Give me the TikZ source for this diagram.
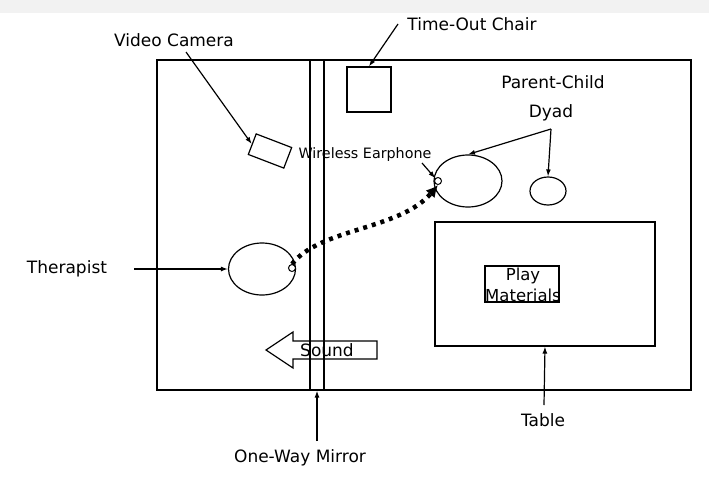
\documentclass[tikz,border=0pt]{standalone}
\usepackage{fontspec}
\setmainfont{DejaVu Sans}
\usetikzlibrary{shapes.geometric,arrows.meta}
\tikzset{
  lbl/.style={font=\fontsize{17}{20}\selectfont, inner sep=1pt},
  small/.style={font=\fontsize{14.3}{17}\selectfont, inner sep=1pt},
  box/.style={draw, line width=1.2pt, inner sep=0pt},
  oval/.style={draw, ellipse, line width=1.2pt, inner sep=0pt},
  ear/.style={draw, circle, fill=white, line width=1pt, minimum size=7pt, inner sep=0pt},
  arr/.style={line width=1.2pt, -{Latex[length=7pt,width=5pt]}},
  signal/.style={line width=4.5pt, dash pattern=on 4pt off 5pt, -{Latex[length=12pt,width=12pt]}}
}
\begin{document}
\begin{tikzpicture}[x=1pt,y=-1pt]
\useasboundingbox (0,0) rectangle (709,482);
\fill[white] (0,0) rectangle (709,482);
\fill[black!5] (0,0) rectangle (709,13);

% room and mirror
\node[box, minimum width=534pt, minimum height=330pt] (room) at (424,225) {};
% sound arrow (outline)
\draw[line width=1.2pt, line join=miter] (266,350) -- (293,332) -- (293,341) -- (377,341) -- (377,359) -- (293,359) -- (293,368) -- cycle;
\node[box, minimum width=14pt, minimum height=330pt] (mirror) at (317,225) {};
\node[lbl] (snd) at (327,350) {Sound};

% objects
\node[box, minimum width=44pt, minimum height=45pt] (chair) at (369,89.5) {};
\node[box, minimum width=38pt, minimum height=22pt, rotate=-21] (cam) at (270,151) {};
\node[oval, minimum width=68pt, minimum height=52pt] (parent) at (468,181) {};
\node[oval, minimum width=36pt, minimum height=28pt] (child) at (548,191) {};
\node[oval, minimum width=67pt, minimum height=52pt] (tp) at (262,269) {};
\node[ear] (ear1) at (292,268) {};
\node[ear] (ear2) at (438,181) {};
\node[box, minimum width=220pt, minimum height=124pt] (table) at (545,284) {};
\node[box, minimum width=74pt, minimum height=36pt] (pmbox) at (522,284) {};
\node[lbl, align=center, font=\fontsize{16.5}{21}\selectfont] (pm) at (523,285) {Play\\Materials};

% labels
\node[lbl] (vc) at (174,40) {Video Camera};
\node[lbl] (toc) at (472,24) {Time-Out Chair};
\node[lbl] (pc) at (553,82) {Parent-Child};
\node[lbl] (dyad) at (551,113) {Dyad};
\node[small] (wl) at (365,155) {Wireless Earphone};
\node[lbl] (ther) at (67,269) {Therapist};
\node[lbl] (tbl) at (543,420) {Table};
\node[lbl] (owm) at (300,458) {One-Way Mirror};

% connector start points
\coordinate (vcs) at (186,52);
\coordinate (tocs) at (398,24);
\coordinate (dys) at (551,129);
\coordinate (wls) at (422,163);
\coordinate (thers) at (134,269);
\coordinate (tbls) at (544,405);
\coordinate (owms) at (317,441);

% connectors
\draw[arr] (vcs) -- (cam.west);
\draw[arr] (tocs) -- (chair.north);
\draw[arr] (dys) -- (parent.north);
\draw[arr] (dys) -- (child.north);
\draw[arr] (wls) -- (ear2.north west);
\draw[arr] (thers) -- (tp.west);
\draw[arr] (tbls) -- (table.south);
\draw[arr] (owms) -- (mirror.south);
\draw[signal] (ear1.north) .. controls (320,228) and (400,230) .. (ear2.south);
\end{tikzpicture}
\end{document}
